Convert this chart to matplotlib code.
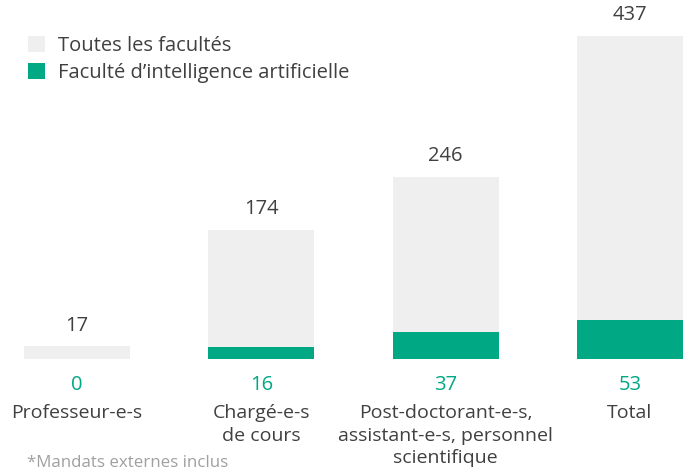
import matplotlib.pyplot as plt
from matplotlib import transforms

plt.rcParams['font.family'] = ['Open Sans', 'DejaVu Sans']

# data
categories = ["Professeur-e-s", "Chargé-e-s\nde cours",
              "Post-doctorant-e-s,\nassistant-e-s, personnel\nscientifique", "Total"]
all_faculties = [17, 174, 246, 437]
ai_faculty = [0, 16, 37, 53]

GREY = "#efefef"
GREEN = "#00a884"
DARK = "#404040"

W, H = 685, 472
fig = plt.figure(figsize=(W / 100, H / 100), dpi=100)
base_px = 359
ax = fig.add_axes([0, (H - base_px) / H, 1, base_px / H])
ax.set_ylim(0, base_px / 0.74)
ax.set_xlim(-0.418, 3.299)
ax.axis("off")

x = list(range(len(categories)))
b1 = ax.bar(x, all_faculties, width=0.575, color=GREY, label="Toutes les facultés")
b2 = ax.bar(x, ai_faculty, width=0.575, color=GREEN, label="Faculté d’intelligence artificielle")

# totals above grey bars
for xi, v in zip(x, all_faculties):
    ax.annotate(str(v), (xi, v), xytext=(0, 15), textcoords="offset points",
                ha="center", va="center", fontsize=14.5, color=DARK)

# labels under the bars, placed in figure pixels
tr = transforms.blended_transform_factory(ax.transData, fig.transFigure)
for xi, v, c in zip(x, ai_faculty, categories):
    ax.text(xi, 1 - 385 / H, str(v), transform=tr, ha="center", va="center",
            fontsize=14.5, color=GREEN)
    ax.text(xi, 1 - 404 / H, c, transform=tr, ha="center", va="top",
            fontsize=14, color=DARK, linespacing=1.33)

fig.text(27 / W, 1 - 463 / H, "*Mandats externes inclus", ha="left", va="center",
         fontsize=12.2, color="#a0a0a0")

ax.legend(loc="upper left", bbox_to_anchor=(20 / W, 1 - 28 / H),
          bbox_transform=fig.transFigure, frameon=False, fontsize=14.5,
          handlelength=0.85, handleheight=0.85, handletextpad=0.65,
          labelspacing=0.35, labelcolor=DARK, borderaxespad=0)

fig.savefig("out.png", dpi=100)
